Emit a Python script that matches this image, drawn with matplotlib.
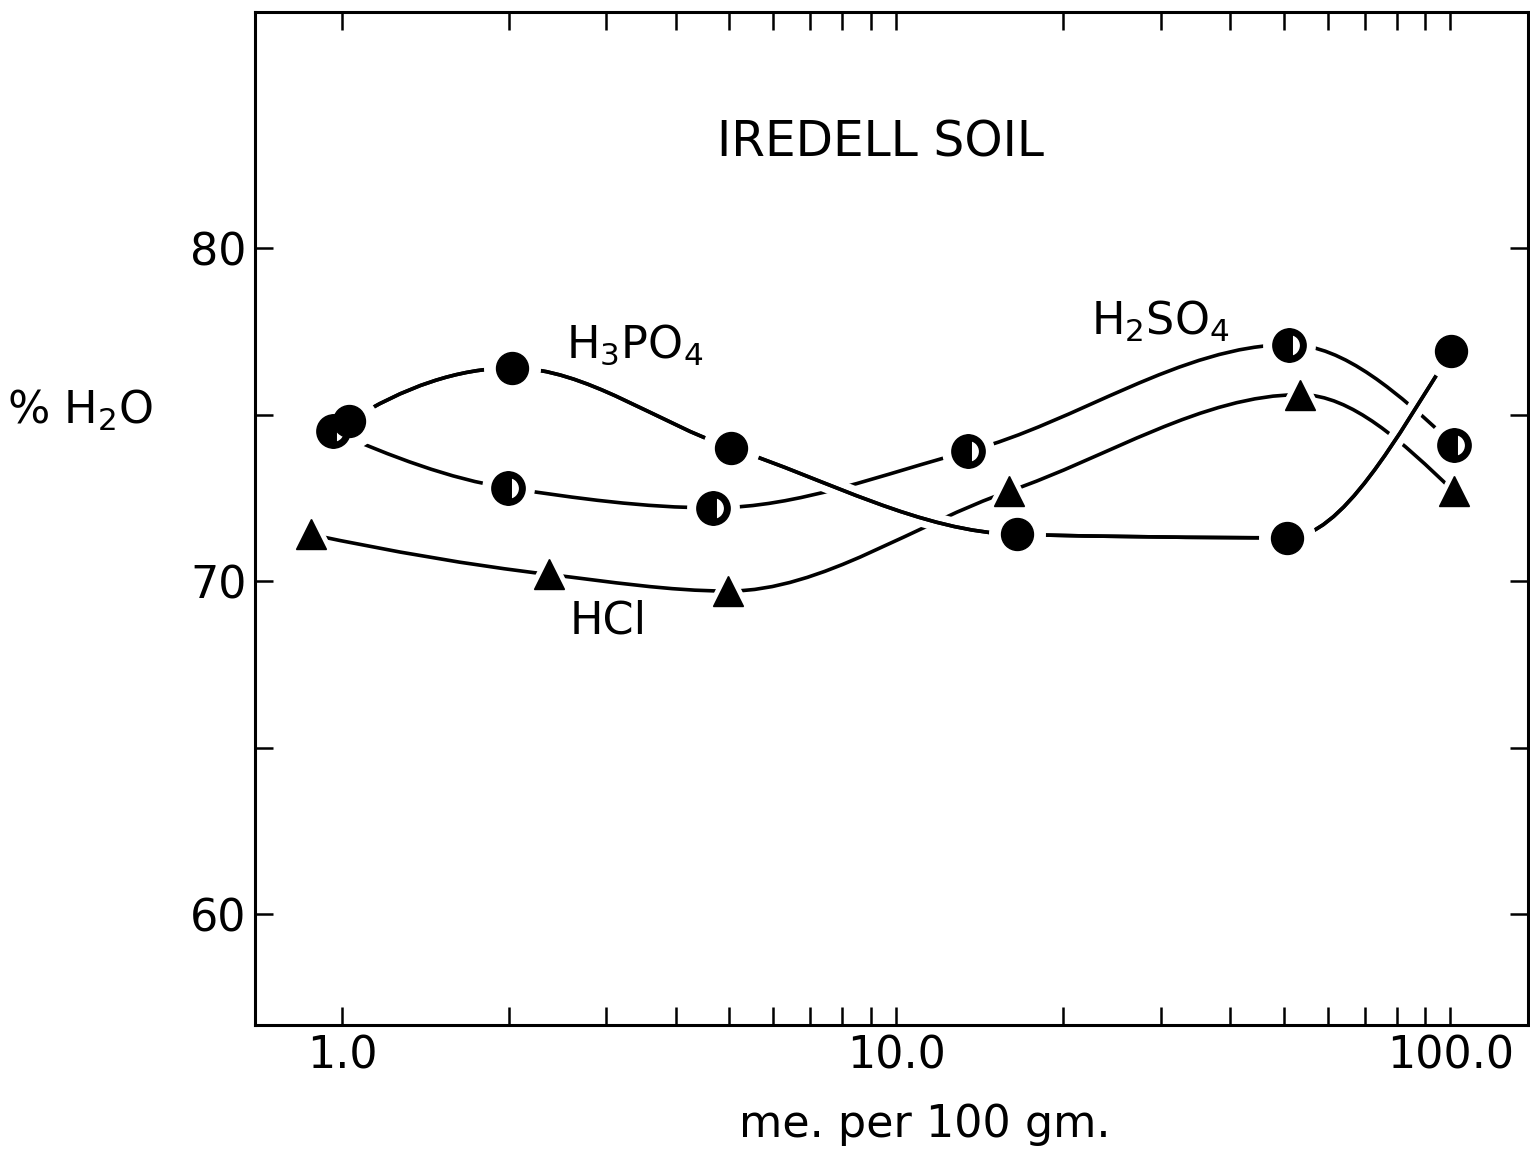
import numpy as np
import matplotlib
matplotlib.use('Agg')
import matplotlib.pyplot as plt
from matplotlib.path import Path
from matplotlib.patches import PathPatch
from matplotlib.ticker import FixedLocator, NullFormatter
import matplotlib.patheffects as pe

# data
h3po4_x = [1.03, 2.03, 5.04, 16.5, 50.8, 100.4]
h3po4_y = [74.8, 76.4, 74.0, 71.4, 71.3, 76.9]

h2so4_x = [0.963, 1.99, 4.67, 13.5, 51.2, 101.3]
h2so4_y = [74.5, 72.8, 72.2, 73.9, 77.1, 74.1]

hcl_x = [0.879, 2.36, 4.98, 16.0, 53.6, 101.3]
hcl_y = [71.4, 70.2, 69.7, 72.7, 75.6, 72.7]

major_x = [1, 10, 100]
major_x_labels = ['1.0', '10.0', '100.0']
minor_x = [2, 3, 4, 5, 6, 7, 8, 9, 20, 30, 40, 50, 60, 70, 80, 90]
y_ticks = [60, 65, 70, 75, 80]
y_labels = ['60', '', '70', '', '80']

FS = 32


def slopes(u, y):
    # pchip-style derivatives, so the curve stays flat at peaks and dips
    h = np.diff(u)
    d = np.diff(y) / h
    n = len(u)
    m = np.zeros(n)
    for k in range(1, n - 1):
        if d[k - 1] * d[k] > 0:
            w1 = 2 * h[k] + h[k - 1]
            w2 = h[k] + 2 * h[k - 1]
            m[k] = (w1 + w2) / (w1 / d[k - 1] + w2 / d[k])
    for k, (ha, hb, da, db) in [(0, (h[0], h[1], d[0], d[1])),
                                (n - 1, (h[-1], h[-2], d[-1], d[-2]))]:
        v = ((2 * ha + hb) * da - ha * db) / (ha + hb)
        if np.sign(v) != np.sign(da):
            v = 0
        elif np.sign(da) != np.sign(db) and abs(v) > abs(3 * da):
            v = 3 * da
        m[k] = v
    return m


def smooth_path(xs, ys):
    u = np.log10(xs)
    y = np.asarray(ys, dtype=float)
    m = slopes(u, y)
    verts = [(u[0], y[0])]
    codes = [Path.MOVETO]
    for i in range(len(u) - 1):
        h = u[i + 1] - u[i]
        verts += [(u[i] + h / 3, y[i] + m[i] * h / 3),
                  (u[i + 1] - h / 3, y[i + 1] - m[i + 1] * h / 3),
                  (u[i + 1], y[i + 1])]
        codes += [Path.CURVE4] * 3
    verts = np.array(verts)
    verts[:, 0] = 10 ** verts[:, 0]
    return Path(verts, codes)


fig = plt.figure(figsize=(15.3, 11.55), dpi=100)
ax = fig.add_axes([0.1667, 0.1126, 0.832, 0.877])
ax.set_xscale('log')
ax.set_xlim(0.697, 138)
ax.set_ylim(56.67, 87.09)

lw = 2.6
ax.add_patch(PathPatch(smooth_path(hcl_x, hcl_y), fill=False, ec='black', lw=lw, zorder=2))
ax.add_patch(PathPatch(smooth_path(h2so4_x, h2so4_y), fill=False, ec='black', lw=lw, zorder=2))
ax.add_patch(PathPatch(smooth_path(h3po4_x, h3po4_y), fill=False, ec='black', lw=lw, zorder=2.5,
                       path_effects=[pe.withStroke(linewidth=lw + 10, foreground='white'), pe.Normal()]))

# white halos so the curves stop short of the symbols
halo = 17
ax.plot(hcl_x, hcl_y, ls='none', marker='^', ms=21 + halo, color='white', zorder=3)
ax.plot(h2so4_x, h2so4_y, ls='none', marker='o', ms=20 + halo, color='white', zorder=3)
ax.plot(h3po4_x, h3po4_y, ls='none', marker='o', ms=23 + halo, color='white', zorder=3)

ax.plot(hcl_x, hcl_y, ls='none', marker='^', ms=21, color='black', zorder=4)
ax.plot(h2so4_x, h2so4_y, ls='none', marker='o', ms=20, fillstyle='left',
        mfc='black', mfcalt='white', mec='black', mew=5, zorder=4)
ax.plot(h3po4_x, h3po4_y, ls='none', marker='o', ms=23, color='black', zorder=4)

ax.text(3.38, 77.1, r'H$_3$PO$_4$', fontsize=FS, ha='center', va='center')
ax.text(30.0, 77.8, r'H$_2$SO$_4$', fontsize=FS, ha='center', va='center')
ax.text(3.02, 68.8, 'HCl', fontsize=FS, ha='center', va='center')
ax.text(0.491, 0.871, 'IREDELL SOIL', fontsize=35, ha='center', va='center', transform=ax.transAxes)

ax.xaxis.set_major_locator(FixedLocator(major_x))
ax.xaxis.set_minor_locator(FixedLocator(minor_x))
ax.set_xticklabels(major_x_labels)
ax.xaxis.set_minor_formatter(NullFormatter())
ax.set_yticks(y_ticks)
ax.set_yticklabels(y_labels)

ax.tick_params(axis='both', which='both', direction='in', width=1.8, length=13,
               top=True, right=True, labelsize=FS)
ax.tick_params(axis='x', which='both', pad=7)
ax.tick_params(axis='y', which='both', pad=6)

for s in ax.spines.values():
    s.set_linewidth(2.2)

ax.set_xlabel('me. per 100 gm.', fontsize=FS)
ax.xaxis.set_label_coords(0.526, -0.077)
fig.text(0.052, 0.645, r'% H$_2$O', fontsize=FS, ha='center', va='center')

fig.savefig('out.png', dpi=100, facecolor='white')
